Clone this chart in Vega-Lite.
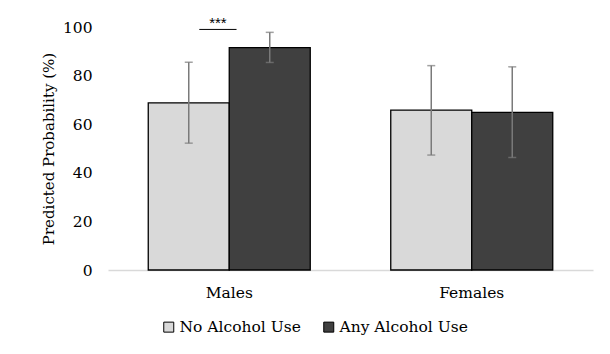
{
  "$schema": "https://vega.github.io/schema/vega-lite/v6.json",
  "autosize": {"type": "none"},
  "width": 485,
  "height": 243,
  "padding": {"left": 108, "top": 27, "right": 17, "bottom": 84},
  "background": "white",
  "config": {
    "view": {"stroke": null},
    "font": "DejaVu Serif",
    "axis": {"labelFont": "DejaVu Serif", "titleFont": "DejaVu Serif", "labelColor": "black", "titleColor": "black", "grid": false, "ticks": false},
    "legend": {"labelFont": "DejaVu Serif", "labelColor": "black"}
  },
  "datasets": {
    "bars": [
      {"group": "Males", "alcohol": "No Alcohol Use", "p": 68.8, "lo": 52.2, "hi": 85.5},
      {"group": "Males", "alcohol": "Any Alcohol Use", "p": 91.5, "lo": 85.4, "hi": 97.8},
      {"group": "Females", "alcohol": "No Alcohol Use", "p": 65.8, "lo": 47.3, "hi": 84.1},
      {"group": "Females", "alcohol": "Any Alcohol Use", "p": 64.9, "lo": 46.3, "hi": 83.6}
    ],
    "sig": [
      {"group": "Males", "y": 99, "label": "***"}
    ]
  },
  "layer": [
    {
      "data": {"name": "bars"},
      "mark": {"type": "bar", "stroke": "black", "strokeWidth": 1.3},
      "encoding": {
        "x": {"field": "group", "type": "nominal", "sort": ["Males", "Females"],
              "scale": {"domain": ["Males", "Females"], "paddingInner": 0.332, "paddingOuter": 0.166},
              "axis": {"title": null, "labelAngle": 0, "labelFontSize": 15.5, "labelPadding": 15, "domainColor": "#d9d9d9", "domainWidth": 1.5}},
        "xOffset": {"field": "alcohol", "type": "nominal", "sort": ["No Alcohol Use", "Any Alcohol Use"], "scale": {"domain": ["No Alcohol Use", "Any Alcohol Use"], "paddingInner": 0, "paddingOuter": 0}},
        "y": {"field": "p", "type": "quantitative",
              "scale": {"domain": [0, 100]},
              "axis": {"title": "Predicted Probability (%)", "values": [0, 20, 40, 60, 80, 100], "domain": false, "labelFontSize": 15.5, "labelPadding": 16, "titleFontSize": 15, "titleFontWeight": "normal", "titlePadding": 6}},
        "color": {"field": "alcohol", "type": "nominal", "sort": ["No Alcohol Use", "Any Alcohol Use"],
                  "scale": {"domain": ["No Alcohol Use", "Any Alcohol Use"], "range": ["#d9d9d9", "#404040"]},
                  "legend": {"title": null, "orient": "none", "direction": "horizontal", "legendX": 53, "legendY": 292,
                             "symbolType": "square", "symbolSize": 100, "symbolStrokeColor": "black", "symbolStrokeWidth": 1,
                             "labelFontSize": 15.5, "labelOffset": 3, "columnPadding": 20}}
      }
    },
    {
      "data": {"name": "bars"},
      "mark": {"type": "rule", "color": "#7a7a7a", "strokeWidth": 1.5},
      "encoding": {
        "x": {"field": "group", "type": "nominal", "sort": ["Males", "Females"]},
        "xOffset": {"field": "alcohol", "type": "nominal", "sort": ["No Alcohol Use", "Any Alcohol Use"]},
        "y": {"field": "lo", "type": "quantitative"},
        "y2": {"field": "hi"}
      }
    },
    {
      "data": {"name": "bars"},
      "mark": {"type": "tick", "color": "#7a7a7a", "thickness": 1.5, "size": 8},
      "encoding": {
        "x": {"field": "group", "type": "nominal", "sort": ["Males", "Females"]},
        "xOffset": {"field": "alcohol", "type": "nominal", "sort": ["No Alcohol Use", "Any Alcohol Use"]},
        "y": {"field": "lo", "type": "quantitative"}
      }
    },
    {
      "data": {"name": "bars"},
      "mark": {"type": "tick", "color": "#7a7a7a", "thickness": 1.5, "size": 8},
      "encoding": {
        "x": {"field": "group", "type": "nominal", "sort": ["Males", "Females"]},
        "xOffset": {"field": "alcohol", "type": "nominal", "sort": ["No Alcohol Use", "Any Alcohol Use"]},
        "y": {"field": "hi", "type": "quantitative"}
      }
    },
    {
      "data": {"name": "sig"},
      "mark": {"type": "rule", "color": "black", "strokeWidth": 1},
      "encoding": {
        "x": {"field": "group", "type": "nominal", "sort": ["Males", "Females"], "bandPosition": 0.315},
        "x2": {"field": "group", "bandPosition": 0.545},
        "y": {"field": "y", "type": "quantitative"}
      }
    },
    {
      "data": {"name": "sig"},
      "mark": {"type": "text", "font": "Liberation Sans", "fontSize": 15, "dy": -1, "baseline": "alphabetic", "color": "black"},
      "encoding": {
        "x": {"field": "group", "type": "nominal", "sort": ["Males", "Females"], "bandPosition": 0.43},
        "y": {"field": "y", "type": "quantitative"},
        "text": {"field": "label"}
      }
    }
  ]
}
